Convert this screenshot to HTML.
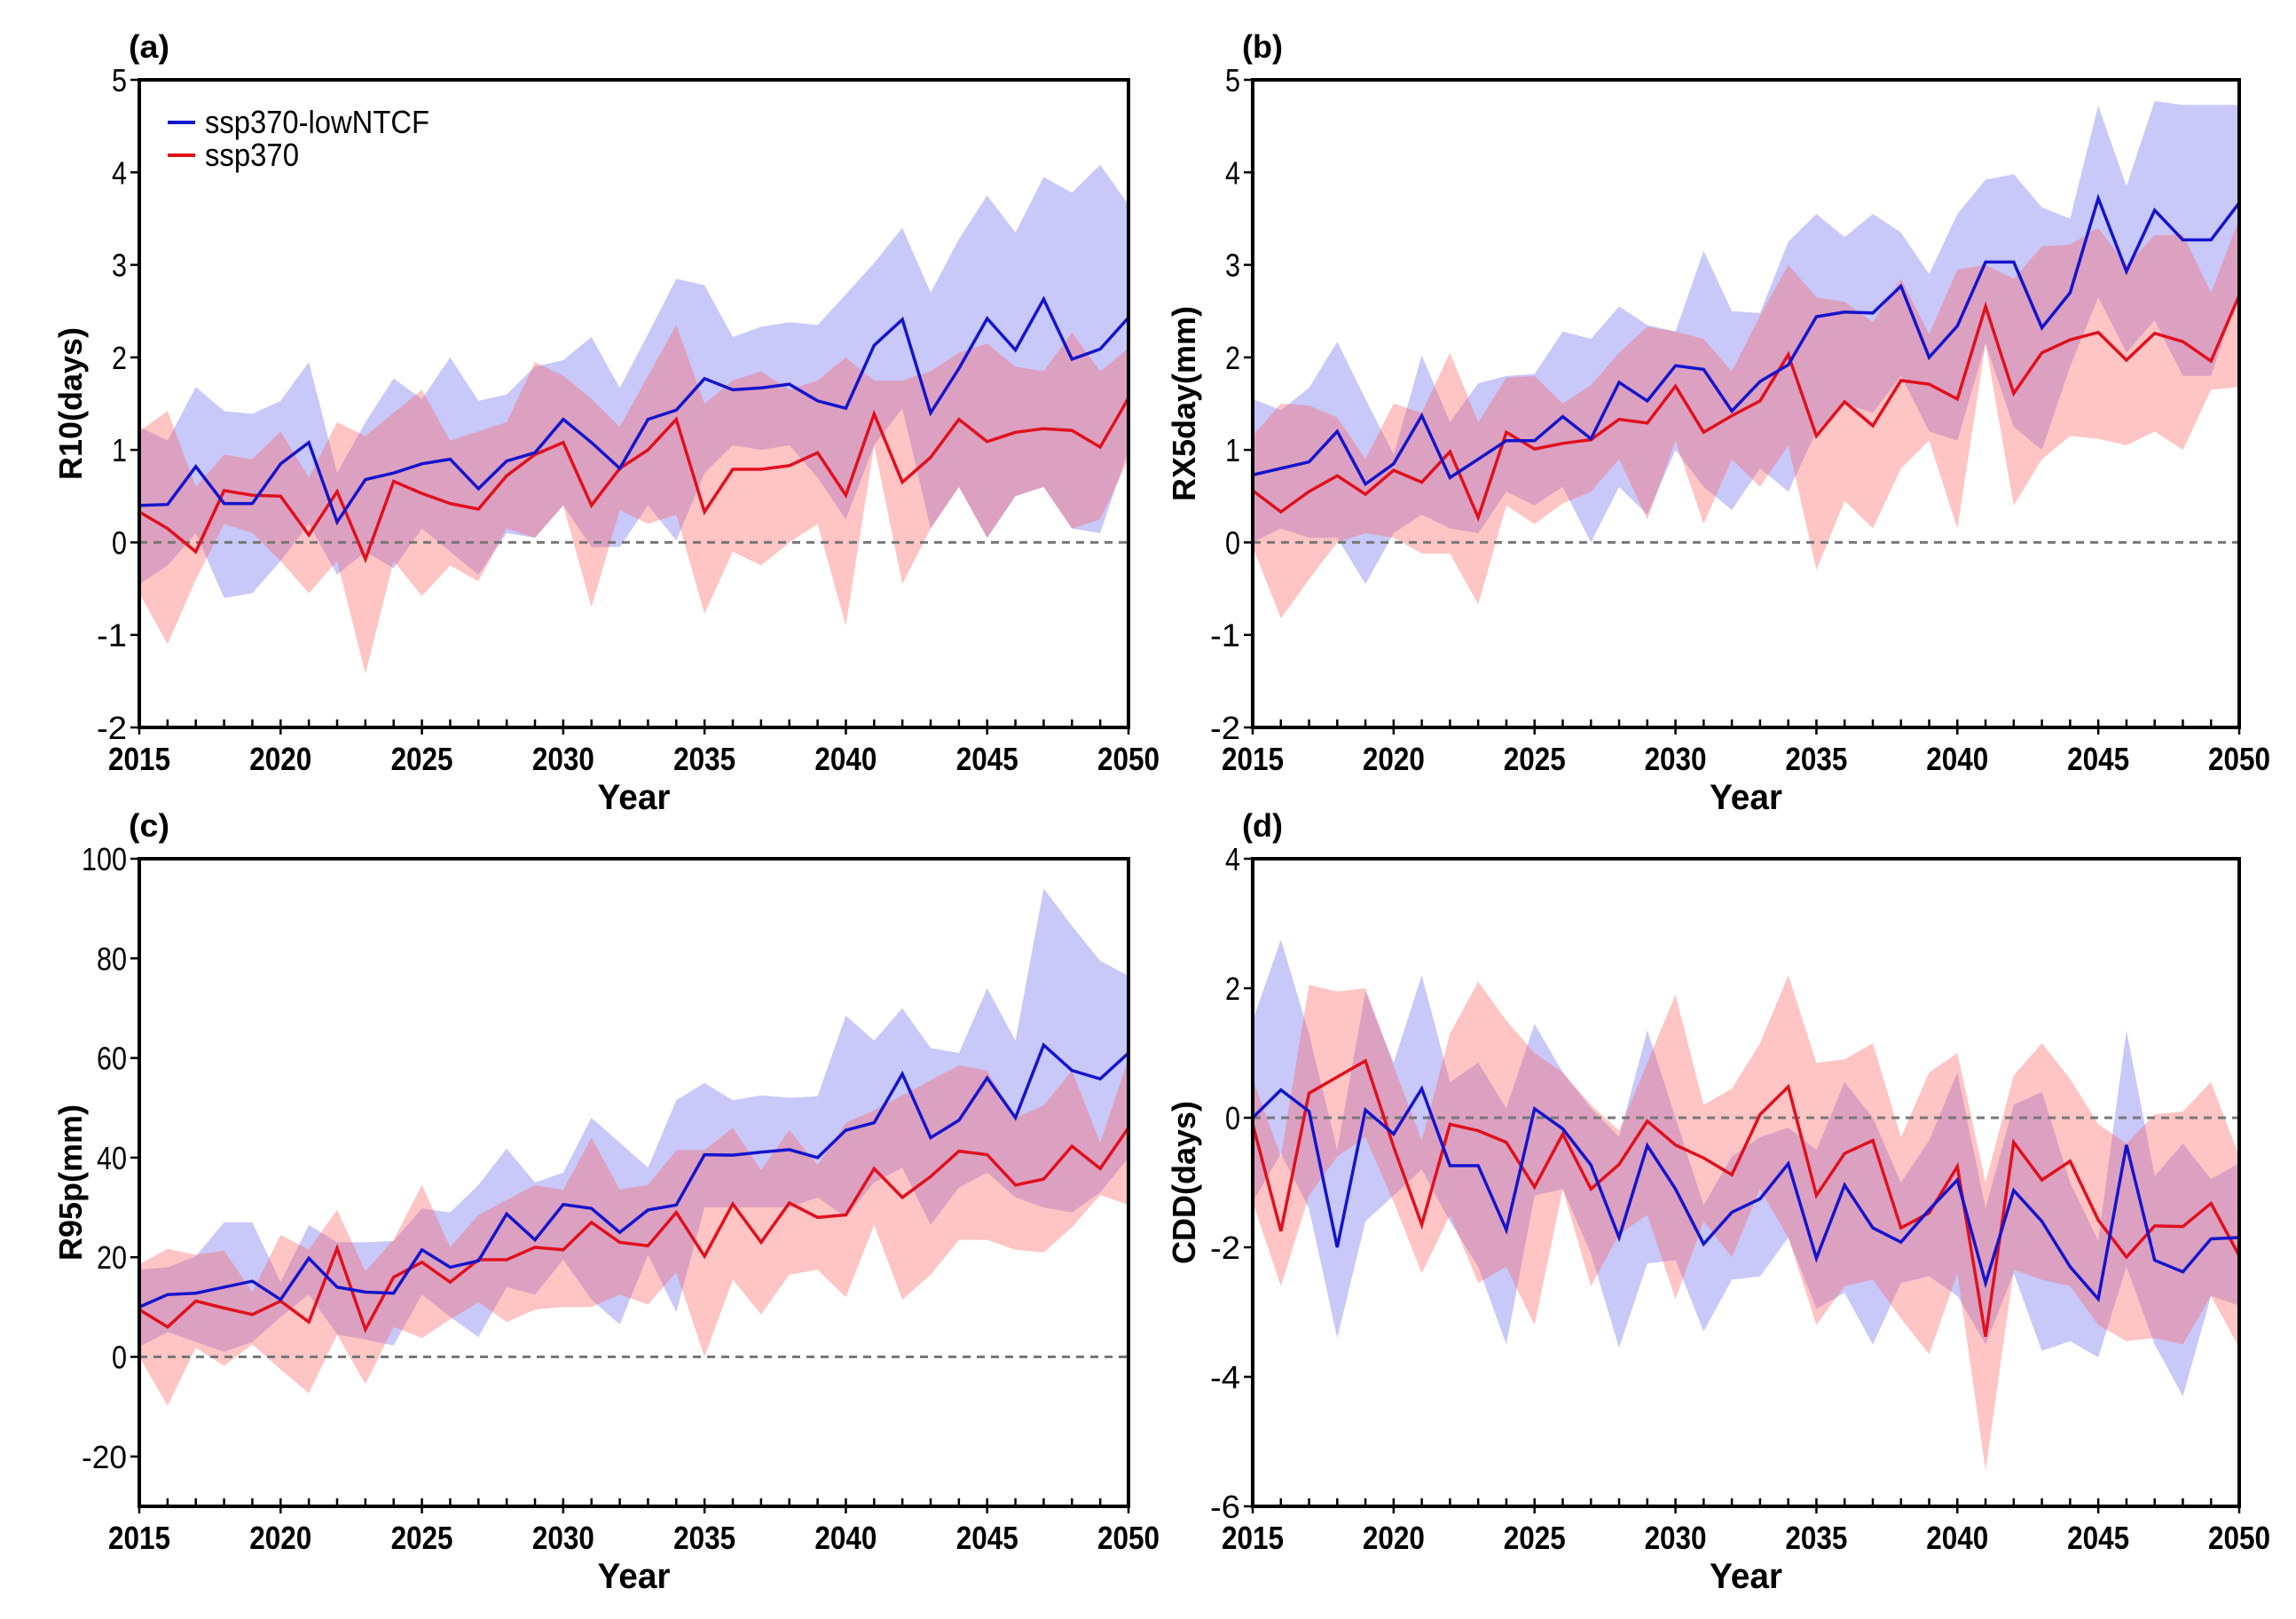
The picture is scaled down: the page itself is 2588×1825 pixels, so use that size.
<!DOCTYPE html>
<html><head><meta charset="utf-8"><style>
body{margin:0;background:#fff}
svg text{font-family:"Liberation Sans Narrow","Liberation Sans",Arial,sans-serif}
</style></head><body>
<svg id="fig" width="2588" height="1820" viewBox="0 0 2588 1820" xmlns="http://www.w3.org/2000/svg"></svg>
<script>
const years = Array.from({length:36},(_,i)=>2015+i);
// Panel a: R10
const aBlueMean=[0.4,0.41,0.82,0.42,0.42,0.85,1.08,0.22,0.68,0.75,0.85,0.9,0.58,0.88,0.97,1.33,1.08,0.8,1.33,1.43,1.77,1.65,1.67,1.71,1.53,1.45,2.13,2.41,1.4,1.88,2.42,2.08,2.63,1.98,2.09,2.43];
const aBlueUp=[1.25,1.1,1.68,1.42,1.39,1.53,1.95,0.75,1.3,1.77,1.55,2.0,1.53,1.6,1.9,1.97,2.22,1.67,2.25,2.85,2.78,2.22,2.33,2.38,2.35,2.68,3.02,3.4,2.7,3.28,3.75,3.35,3.95,3.78,4.08,3.65];
const aBlueLo=[-0.45,-0.25,0.1,-0.6,-0.55,-0.2,0.2,-0.35,-0.1,-0.28,0.15,-0.1,-0.35,0.1,0.05,0.4,-0.05,-0.05,0.4,0.02,0.75,1.05,1.0,1.05,0.7,0.25,1.05,1.45,0.15,0.6,0.05,0.5,0.6,0.15,0.1,1.0];
const aRedMean=[0.33,0.15,-0.1,0.56,0.51,0.5,0.08,0.55,-0.18,0.66,0.53,0.42,0.36,0.72,0.95,1.08,0.4,0.8,1.0,1.33,0.33,0.79,0.79,0.83,0.97,0.51,1.39,0.65,0.92,1.33,1.09,1.19,1.23,1.21,1.03,1.56];
const aRedUp=[1.2,1.42,0.6,0.95,0.9,1.2,0.7,1.3,1.15,1.4,1.65,1.1,1.2,1.3,1.95,1.8,1.55,1.25,1.8,2.35,1.5,1.75,1.85,1.65,1.75,2.0,1.75,1.75,1.85,2.05,2.15,1.9,1.85,2.27,1.85,2.1];
const aRedLo=[-0.55,-1.1,-0.4,0.2,0.1,-0.2,-0.55,-0.2,-1.42,-0.2,-0.58,-0.25,-0.42,0.15,0.05,0.4,-0.7,0.35,0.2,0.3,-0.77,-0.1,-0.25,0.0,0.2,-0.9,1.05,-0.45,0.15,0.6,0.05,0.5,0.6,0.15,0.25,0.9];
// Panel b: RX5day
const bBlueMean=[0.73,0.8,0.87,1.2,0.63,0.85,1.37,0.7,0.9,1.1,1.1,1.36,1.12,1.73,1.53,1.91,1.87,1.42,1.74,1.92,2.44,2.49,2.48,2.77,2.0,2.34,3.03,3.03,2.32,2.7,3.72,2.93,3.59,3.27,3.27,3.67];
const bBlueUp=[1.55,1.43,1.67,2.17,1.55,0.95,2.02,1.3,1.72,1.8,1.82,2.28,2.2,2.55,2.35,2.28,3.15,2.5,2.48,3.25,3.55,3.3,3.55,3.35,2.9,3.55,3.92,3.98,3.62,3.5,4.72,3.85,4.77,4.73,4.73,4.73];
const bBlueLo=[0.0,0.15,0.05,0.05,-0.45,0.1,0.3,0.15,0.1,0.55,0.4,0.6,0.0,0.6,0.3,1.0,0.6,0.35,0.8,0.55,1.2,1.5,1.4,1.8,1.2,1.1,2.15,1.25,1.0,1.9,2.65,2.05,2.4,1.8,1.8,2.7];
const bRedMean=[0.56,0.33,0.55,0.72,0.52,0.78,0.65,0.98,0.27,1.19,1.01,1.07,1.11,1.33,1.29,1.69,1.19,1.37,1.53,2.03,1.15,1.52,1.26,1.75,1.71,1.55,2.55,1.61,2.05,2.19,2.27,1.97,2.26,2.17,1.96,2.67];
const bRedUp=[1.15,1.5,1.48,1.35,0.9,1.5,1.4,2.05,1.3,1.78,1.8,1.5,1.7,2.05,2.33,2.28,2.2,1.85,2.45,3.0,2.65,2.6,2.38,2.85,2.25,2.95,3.0,2.85,3.2,3.22,3.4,3.0,3.32,3.33,2.7,3.5];
const bRedLo=[-0.05,-0.82,-0.4,0.0,0.1,0.05,-0.12,-0.12,-0.67,0.4,0.2,0.42,0.55,0.9,0.25,1.1,0.2,0.9,0.6,1.05,-0.3,0.45,0.15,0.8,1.1,0.15,2.15,0.4,0.9,1.15,1.12,1.05,1.2,1.0,1.65,1.68];
// Panel c: R95p
const cBlueMean=[10,12.5,12.8,14,15.2,11.5,19.8,14,13,12.8,21.5,18,19.3,28.7,23.5,30.6,29.8,25,29.5,30.5,40.6,40.5,41.1,41.6,40,45.5,47,56.8,44,47.5,56,48,62.6,57.5,55.8,61];
const cBlueUp=[17.5,18,20.2,27,27,15,26.5,23,23,23.3,29.8,29,34.5,41.8,35,37,48,43,38,51.5,55,51.5,52.5,52,52.3,68.5,63.5,70,62,61,74,63.5,94,86.5,79.5,76.5];
const cBlueLo=[2,5,3,1,3,8,12.5,4.5,3.5,2.3,12.5,8,4,14,12.5,19.5,11.5,6.5,20.5,9,30,30,30,30,32,28,35,38,26.5,34,37,32,30,29,33,40];
const cRedMean=[9.5,6,11.2,9.8,8.5,11.2,7,21.8,5.5,16,19,15,19.5,19.5,22,21.5,27,23,22.3,29,20.2,30.7,23,30.9,28,28.5,37.8,32,36.2,41.3,40.6,34.5,35.7,42.3,37.8,46];
const cRedUp=[18.6,21.7,20.5,21.3,13,24.5,21.5,29.5,17.2,23.5,34.5,22,28.5,31.5,34.5,33.5,44,33.6,34.5,41.5,41.5,46,37.5,45.5,38.5,47,49.5,52.5,55.5,58.5,57.5,48,50.5,57.5,43,60];
const cRedLo=[0,-9.8,1.8,-1.8,2.5,-2.5,-7.3,4.5,-5.5,6,3.8,7.5,11,7,9.5,10,10,12.5,10.5,17,0,15.5,8.5,16.5,17.5,12,26.5,11.5,16.5,23.5,23.5,21.5,21,26,32.5,30.5];
// Panel d: CDD
const dBlueMean=[0,0.43,0.1,-2.0,0.12,-0.25,0.45,-0.74,-0.74,-1.73,0.14,-0.17,-0.73,-1.85,-0.43,-1.1,-1.95,-1.46,-1.25,-0.71,-2.17,-1.04,-1.7,-1.92,-1.42,-0.96,-2.55,-1.12,-1.6,-2.3,-2.8,-0.42,-2.2,-2.38,-1.87,-1.85];
const dBlueUp=[1.5,2.75,1.3,-0.5,1.95,0.85,2.2,0.55,0.85,0.15,1.45,0.7,0.15,-0.3,1.35,0.0,-1.35,-0.6,-0.3,-0.15,-0.5,0.55,0.0,-1.0,-0.35,0.7,-1.4,0.2,0.4,-1.0,-1.9,1.35,-0.9,-0.4,-0.95,-0.7];
const dBlueLo=[-1.3,-0.55,-1.4,-3.4,-1.6,-1.2,-0.8,-1.6,-2.3,-3.5,-1.2,-1.1,-2.1,-3.55,-2.25,-2.2,-3.3,-2.5,-2.45,-1.85,-2.95,-2.7,-3.5,-2.55,-2.45,-2.75,-3.5,-2.4,-3.6,-3.45,-3.7,-2.3,-3.5,-4.3,-2.75,-2.9];
const dRedMean=[-0.1,-1.75,0.38,0.63,0.88,-0.45,-1.65,-0.1,-0.2,-0.38,-1.07,-0.25,-1.1,-0.72,-0.05,-0.42,-0.62,-0.88,0.05,0.48,-1.2,-0.55,-0.35,-1.7,-1.47,-0.75,-3.38,-0.38,-0.96,-0.67,-1.58,-2.15,-1.67,-1.68,-1.32,-2.13];
const dRedUp=[0.6,-0.6,2.05,1.95,2.0,0.8,-0.35,1.3,2.1,1.5,1.0,0.7,0.2,-0.2,0.85,1.9,0.2,0.45,1.15,2.2,0.85,0.9,1.15,-0.3,0.7,1.0,-1.0,0.65,1.15,0.6,-0.1,-0.4,0.05,0.1,0.55,-0.6];
const dRedLo=[-1.3,-2.6,-1.2,-0.6,-0.3,-1.3,-2.4,-1.5,-2.55,-2.3,-3.2,-1.1,-2.6,-1.8,-1.5,-2.8,-1.6,-2.15,-1.1,-1.85,-3.2,-2.6,-2.5,-3.1,-3.65,-2.4,-5.45,-2.35,-2.5,-2.6,-3.2,-3.45,-3.4,-3.5,-2.75,-3.55];
const xTicks=[2015,2020,2025,2030,2035,2040,2045,2050];
const yTicksA=[-2,-1,0,1,2,3,4,5];
const yTicksC=[-20,0,20,40,60,80,100];
const yTicksD=[-6,-4,-2,0,2,4];

const NS="http://www.w3.org/2000/svg";
const svg=document.getElementById('fig');
function el(tag,attrs,parent,text){const e=document.createElementNS(NS,tag);for(const k in attrs)e.setAttribute(k,attrs[k]);if(text!==undefined)e.textContent=text;(parent||svg).appendChild(e);return e;}

function panel(o){
  const g=el('g',{});
  
  
  const X=v=>o.x0+(v-2015)/35*(o.x1-o.x0);
  const Y=v=>o.y1-(v-o.ymin)/(o.ymax-o.ymin)*(o.y1-o.y0);
  const band=(up,lo)=>{let p=years.map((y,i)=>X(y).toFixed(1)+','+Y(up[i]).toFixed(1));for(let i=years.length-1;i>=0;i--)p.push(X(years[i]).toFixed(1)+','+Y(lo[i]).toFixed(1));return p.join(' ');};
  const line=(m)=>years.map((y,i)=>X(y).toFixed(1)+','+Y(m[i]).toFixed(1)).join(' ');
  const bb=el('polygon',{points:band(o.bu,o.bl),fill:'#c8c8f9'},g);
  
  
  const rb=el('polygon',{points:band(o.ru,o.rl),fill:'#ff6060',"fill-opacity":0.37},g);
  
  
  const zl=el('line',{x1:o.x0,x2:o.x1,y1:Y(0),y2:Y(0),stroke:'#777',"stroke-width":3,"stroke-dasharray":"9,7"},g);
  
  
  const rl=el('polyline',{points:line(o.rm),fill:'none',stroke:'#e0101e',"stroke-width":3.5},g);
  
  
  const bl=el('polyline',{points:line(o.bm),fill:'none',stroke:'#1414cc',"stroke-width":3.5},g);
  
  
  const fr=el('rect',{x:o.x0,y:o.y0,width:o.x1-o.x0,height:o.y1-o.y0,fill:'none',stroke:'#000',"stroke-width":4},g);
  
  
  years.forEach(y=>{el('line',{x1:X(y),x2:X(y),y1:o.y1,y2:o.y1-9,stroke:'#000',"stroke-width":2.5},g);});
  xTicks.forEach(t=>{
    el('line',{x1:X(t),x2:X(t),y1:o.y1,y2:o.y1+8,stroke:'#000',"stroke-width":2.5},g);
    const tx=el('text',{x:X(t),y:o.y1+48,"text-anchor":"middle","font-size":36,"font-weight":"bold",textLength:70,lengthAdjust:"spacingAndGlyphs"},g,String(t));
    
    
  });
  o.yt.forEach(t=>{
    el('line',{x1:o.x0,x2:o.x0-10,y1:Y(t),y2:Y(t),stroke:'#000',"stroke-width":2.5},g);
    const s=String(t);
    const ty=el('text',{x:o.x0-14,y:Y(t)+13,"text-anchor":"end","font-size":36,textLength:17*s.length,lengthAdjust:"spacingAndGlyphs"},g,s);
    
    
  });
  const xt=el('text',{x:(o.x0+o.x1)/2,y:o.y1+92,"text-anchor":"middle","font-size":40,"font-weight":"bold",textLength:82,lengthAdjust:"spacingAndGlyphs"},g,'Year');
  
  
  const yc=(o.y0+o.y1)/2, yx=o.x0-65;
  const yt=el('text',{x:yx,y:yc,"text-anchor":"middle","font-size":36,"font-weight":"bold",transform:`rotate(-90 ${yx} ${yc})`,style:'font-family:"Liberation Sans",sans-serif'},g,o.ytitle);
  
  
  const pl=el('text',{x:o.x0-12,y:o.y0-25,"font-size":36,"font-weight":"bold",textLength:46,lengthAdjust:"spacingAndGlyphs"},g,'('+o.id+')');
  
  
  return g;
}
panel({id:'a',x0:157,x1:1272,y0:90,y1:820,ymin:-2,ymax:5,yt:yTicksA,ytitle:'R10(days)',bm:aBlueMean,bu:aBlueUp,bl:aBlueLo,rm:aRedMean,ru:aRedUp,rl:aRedLo});
panel({id:'b',x0:1412,x1:2524,y0:90,y1:820,ymin:-2,ymax:5,yt:yTicksA,ytitle:'RX5day(mm)',bm:bBlueMean,bu:bBlueUp,bl:bBlueLo,rm:bRedMean,ru:bRedUp,rl:bRedLo});
panel({id:'c',x0:157,x1:1272,y0:968,y1:1698,ymin:-30,ymax:100,yt:yTicksC,ytitle:'R95p(mm)',bm:cBlueMean,bu:cBlueUp,bl:cBlueLo,rm:cRedMean,ru:cRedUp,rl:cRedLo});
panel({id:'d',x0:1412,x1:2524,y0:968,y1:1698,ymin:-6,ymax:4,yt:yTicksD,ytitle:'CDD(days)',bm:dBlueMean,bu:dBlueUp,bl:dBlueLo,rm:dRedMean,ru:dRedUp,rl:dRedLo});
// legend
const lg=el('g',{});


el('line',{x1:189,x2:220,y1:138,y2:138,stroke:'#1414cc',"stroke-width":4},lg);
const l1=el('text',{x:231,y:150,"font-size":36,textLength:253,lengthAdjust:"spacingAndGlyphs"},lg,'ssp370-lowNTCF');


el('line',{x1:189,x2:220,y1:175,y2:175,stroke:'#e0101e',"stroke-width":4},lg);
const l2=el('text',{x:231,y:187,"font-size":36,textLength:106,lengthAdjust:"spacingAndGlyphs"},lg,'ssp370');


</script>
</body></html>
